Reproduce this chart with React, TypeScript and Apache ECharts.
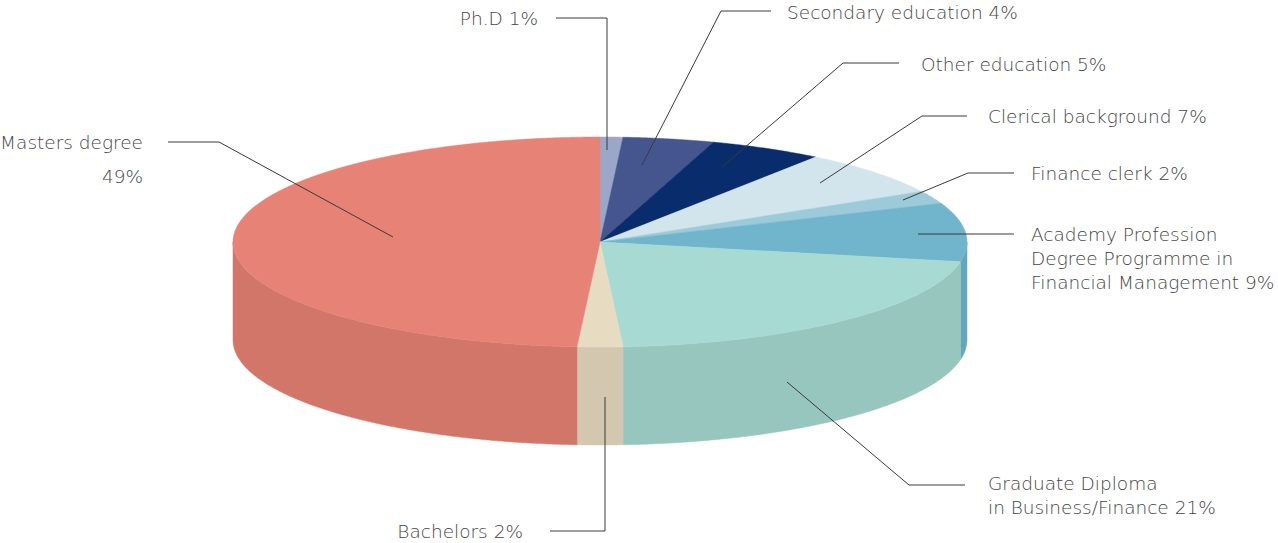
import React, { useEffect, useRef } from "react";
import * as echarts from "echarts";

// ---- data ----
const categories = [
  "Ph.D",
  "Secondary education",
  "Other education",
  "Clerical background",
  "Finance clerk",
  "Academy Profession Degree Programme in Financial Management",
  "Graduate Diploma in Business/Finance",
  "Bachelors",
  "Masters degree",
];
const shares = [1, 4, 5, 7, 2, 9, 21, 2, 49];

// ---- styles ----
const topColors = ["#9ca6c9", "#45568e", "#082c6c", "#d3e5ec", "#9ccad8", "#70b5cc", "#a6dad3", "#e7dcc2", "#e68276"];
const wallColors = ["#8b95b8", "#3c4c80", "#06255c", "#bfd2d9", "#8cb7c5", "#64a6bd", "#97c6bf", "#d3c7b0", "#d27669"];

// ---- layout ----
const PIE = { cx: 600, cy: 242, rx: 367, ry: 105, depth: 98 };
const TEXT_COLOR = "#444444";
const LINE_COLOR = "#3a3a3a";
const FONT_SIZE = 18.5;
const FONT_FAMILY = "'DejaVu Sans', sans-serif";

type LabelLayout = {
  words: number[]; // words per line
  x: number;
  y: number;
  lineHeight: number;
  align: "left" | "right";
  leader: number[][];
};

const labelLayouts: LabelLayout[] = [
  { words: [2], x: 538, y: 18, lineHeight: 24, align: "right", leader: [[556, 18], [607, 18], [607, 150]] },
  { words: [3], x: 787, y: 12, lineHeight: 24, align: "left", leader: [[771, 11], [721, 11], [642, 165]] },
  { words: [3], x: 921, y: 64, lineHeight: 24, align: "left", leader: [[899, 63], [843, 63], [722, 167]] },
  { words: [3], x: 988, y: 116, lineHeight: 24, align: "left", leader: [[967, 116], [922, 116], [820, 183]] },
  { words: [3], x: 1031, y: 173, lineHeight: 24, align: "left", leader: [[1014, 173], [968, 173], [903, 200]] },
  { words: [2, 3, 3], x: 1031, y: 234, lineHeight: 24, align: "left", leader: [[1014, 234], [918, 234]] },
  { words: [2, 3], x: 988, y: 483, lineHeight: 24, align: "left", leader: [[965, 485], [909, 485], [787, 382]] },
  { words: [2], x: 523, y: 531, lineHeight: 24, align: "right", leader: [[550, 531], [605, 531], [605, 397]] },
  { words: [2, 1], x: 143, y: 142, lineHeight: 34, align: "right", leader: [[168, 142], [219, 142], [393, 237]] },
];

function arcPoints(a0: number, a1: number, dy: number): number[][] {
  const pts: number[][] = [];
  const n = Math.max(2, Math.ceil((a1 - a0) / 0.005));
  for (let k = 0; k <= n; k++) {
    const a = a0 + ((a1 - a0) * k) / n;
    pts.push([PIE.cx + PIE.rx * Math.sin(a), PIE.cy - PIE.ry * Math.cos(a) + dy]);
  }
  return pts;
}

export default function App() {
  const ref = useRef<HTMLDivElement>(null);
  useEffect(() => {
    if (!ref.current) return;
    const chart = echarts.init(ref.current, undefined, { renderer: "svg" });
    const total = shares.reduce((s, v) => s + v, 0);
    const starts: number[] = [];
    let acc = 0;
    shares.forEach((v) => {
      starts.push(acc);
      acc += v;
    });

    const renderItem = (params: any, api: any) => {
      const i = params.dataIndex;
      const v = api.value(0);
      const a0 = (starts[i] / total) * Math.PI * 2;
      const a1 = ((starts[i] + v) / total) * Math.PI * 2;
      const children: any[] = [];
      const w0 = Math.max(a0, Math.PI / 2);
      const w1 = Math.min(a1, (Math.PI * 3) / 2);
      if (w1 > w0) {
        const top = arcPoints(w0, w1, 0);
        const bottom = arcPoints(w0, w1, PIE.depth).reverse();
        children.push({
          type: "polygon",
          shape: { points: top.concat(bottom) },
          style: { fill: wallColors[i], stroke: wallColors[i], lineWidth: 0.5 },
        });
      }
      const topPts = [[PIE.cx, PIE.cy]].concat(arcPoints(a0, a1, 0));
      children.push({
        type: "polygon",
        shape: { points: topPts },
        style: { fill: topColors[i], stroke: topColors[i], lineWidth: 0.5 },
      });
      return { type: "group", children };
    };

    const graphics: any[] = [];
    labelLayouts.forEach((lay, i) => {
      const words = `${categories[i]} ${shares[i]}%`.split(" ");
      let w = 0;
      lay.words.forEach((cnt, li) => {
        const line = words.slice(w, w + cnt).join(" ");
        w += cnt;
        graphics.push({
          type: "text",
          x: lay.x,
          y: lay.y + li * lay.lineHeight,
          z: 100,
          silent: true,
          style: {
            text: line,
            fill: TEXT_COLOR,
            fontSize: FONT_SIZE,
            fontFamily: FONT_FAMILY,
            fontWeight: 200,
            align: lay.align,
            verticalAlign: "middle",
          },
        });
      });
      graphics.push({
        type: "polyline",
        z: 100,
        silent: true,
        shape: { points: lay.leader },
        style: { stroke: LINE_COLOR, lineWidth: 1, fill: "none" },
      });
    });

    chart.setOption({
      animation: false,
      backgroundColor: "#ffffff",
      series: [
        {
          type: "custom",
          coordinateSystem: "none",
          silent: true,
          z: 1,
          renderItem,
          data: shares.map((v, i) => ({ name: categories[i], value: [v] })),
        },
      ],
      graphic: graphics,
    });
    return () => chart.dispose();
  }, []);
  return <div ref={ref} style={{ position: "fixed", left: 0, top: 0, width: 1278, height: 543 }} />;
}
